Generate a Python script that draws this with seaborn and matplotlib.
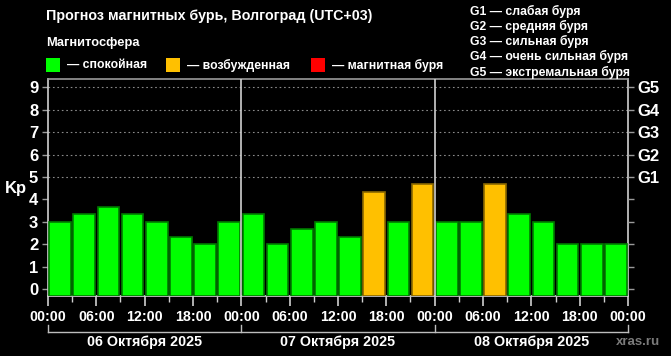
import numpy as np
import pandas as pd
import matplotlib
matplotlib.use("Agg")
import matplotlib.pyplot as plt
import seaborn as sns

# Kp forecast, 3-hour slots over three days
days = ["06 Октября 2025", "07 Октября 2025", "08 Октября 2025"]
kp_day1 = [3.0, 3.33, 3.67, 3.33, 3.0, 2.33, 2.0, 3.0]
kp_day2 = [3.33, 2.0, 2.67, 3.0, 2.33, 4.33, 3.0, 4.67]
kp_day3 = [3.0, 3.0, 4.67, 3.33, 3.0, 2.0, 2.0, 2.0]
time_labels = ["00:00", "06:00", "12:00", "18:00"] * 3 + ["00:00"]
g_labels = ["G1", "G2", "G3", "G4", "G5"]
g_legend = ["G1 — слабая буря", "G2 — средняя буря", "G3 — сильная буря",
            "G4 — очень сильная буря", "G5 — экстремальная буря"]
state_names = ["— спокойная", "— возбужденная", "— магнитная буря"]
state_colors = ["#00ff00", "#ffc000", "#ff0000"]
state_edges = ["#007a00", "#8a6800", "#800000"]

kp = kp_day1 + kp_day2 + kp_day3
df = pd.DataFrame({"slot": [str(i) for i in range(len(kp))], "kp": kp})
df["state"] = np.where(df.kp >= 5, "storm", np.where(df.kp >= 4, "active", "quiet"))
palette = {"quiet": state_colors[0], "active": state_colors[1], "storm": state_colors[2]}
edges = {state_colors[i]: state_edges[i] for i in range(3)}

W, H = 671, 356
fig = plt.figure(figsize=(W / 100, H / 100), dpi=100, facecolor="black")
ax_l, ax_r, ax_b, ax_t = 48, 628, 296, 79
ax = fig.add_axes([ax_l / W, 1 - ax_b / H, (ax_r - ax_l) / W, (ax_b - ax_t) / H])
ax.set_facecolor("black")

ymin, ymax = -0.31, 9.37
sns.barplot(data=df, x="slot", y="kp", hue="state", palette=palette, dodge=False,
            saturation=1, width=0.9, legend=False, ax=ax, zorder=3, linewidth=1.2)
for p in ax.patches:
    fc = matplotlib.colors.to_hex(p.get_facecolor())
    p.set_edgecolor(edges.get(fc, "#007a00"))
    top = p.get_y() + p.get_height()
    p.set_y(ymin)
    p.set_height(top - ymin)

ax.set_xlim(-0.5, 23.5)
ax.set_ylim(ymin, ymax)
for y in range(5, 10):
    ax.axhline(y, color="#8a8a8a", lw=0.8, ls=(0, (1.5, 2.5)), zorder=1)
for x in [7.5, 15.5]:
    ax.axvline(x, color="#d0d0d0", lw=1.2, zorder=4)

for s in ax.spines.values():
    s.set_color("#d0d0d0")
    s.set_linewidth(1.2)
ax.spines["top"].set_color("#9a9a9a")

bold = dict(fontfamily="Liberation Sans", fontweight="bold", color="white")

ax.set_xticks(np.arange(-0.5, 24, 2))
ax.set_xticklabels(time_labels, fontsize=10.3, **bold)
ax.set_xticks(np.arange(0.5, 24, 2), minor=True)
ax.tick_params(axis="x", which="major", length=7, width=1.2, color="#d0d0d0", pad=3)
ax.tick_params(axis="x", which="minor", length=4, width=1, color="#d0d0d0")
ax.set_yticks(range(10))
ax.set_yticklabels([str(i) for i in range(10)], fontsize=12, **bold)
ax.tick_params(axis="y", length=4, width=1, color="#9a9a9a", pad=3)
ax.set_xlabel("")
ax.set_ylabel("")

axr = ax.twinx()
axr.set_ylim(ymin, ymax)
axr.set_yticks(range(10))
axr.set_yticklabels([""] * 5 + g_labels, fontsize=12, **bold)
axr.tick_params(axis="y", length=4, width=1, color="#9a9a9a", pad=3)
for s in axr.spines.values():
    s.set_visible(False)

# day brackets below the time axis
tr = ax.get_xaxis_transform()
yb = (ax_b - 332) / (ax_b - ax_t)
yt = (ax_b - 325) / (ax_b - ax_t)
ax.plot([-0.5, 23.5], [yb, yb], color="#bdbdbd", lw=1, transform=tr, clip_on=False)
for x in [-0.5, 7.5, 15.5, 23.5]:
    ax.plot([x, x], [yb, yt], color="#bdbdbd", lw=1, transform=tr, clip_on=False)
yd = (ax_b - 342) / (ax_b - ax_t)
for i, d in enumerate(days):
    ax.text(3.5 + 8 * i, yd, d, transform=tr, ha="center", va="center", fontsize=10.3, **bold)

ax.text((16 - ax_l) / (ax_r - ax_l), (ax_b - 189) / (ax_b - ax_t), "Kp", transform=ax.transAxes,
        ha="center", va="center", fontsize=12, **bold)

# header texts
fig.text(46 / W, 1 - 16 / H, "Прогноз магнитных бурь, Волгоград (UTC+03)", ha="left",
         va="center", fontsize=10.3, **bold)
fig.text(46 / W, 1 - 43 / H, "Магнитосфера", ha="left", va="center", fontsize=9.3, **bold)
for x0, name, c in zip([46, 166, 311], state_names, state_colors):
    fig.patches.append(matplotlib.patches.Rectangle((x0 / W, 1 - 72 / H), 14 / W, 14 / H,
                                                    transform=fig.transFigure, facecolor=c))
    fig.text((x0 + 21) / W, 1 - 65 / H, name, ha="left", va="center", fontsize=8.8, **bold)
for i, t in enumerate(g_legend):
    fig.text(470 / W, 1 - (11 + 15.3 * i) / H, t, ha="left", va="center", fontsize=8.8, **bold)

fig.text(638 / W, 1 - 342 / H, "xras.ru", ha="center", va="center", fontsize=9.5,
         fontfamily="Liberation Sans", fontweight="bold", color="#7a7a7a")

fig.savefig("out.png", dpi=100, facecolor="black")
